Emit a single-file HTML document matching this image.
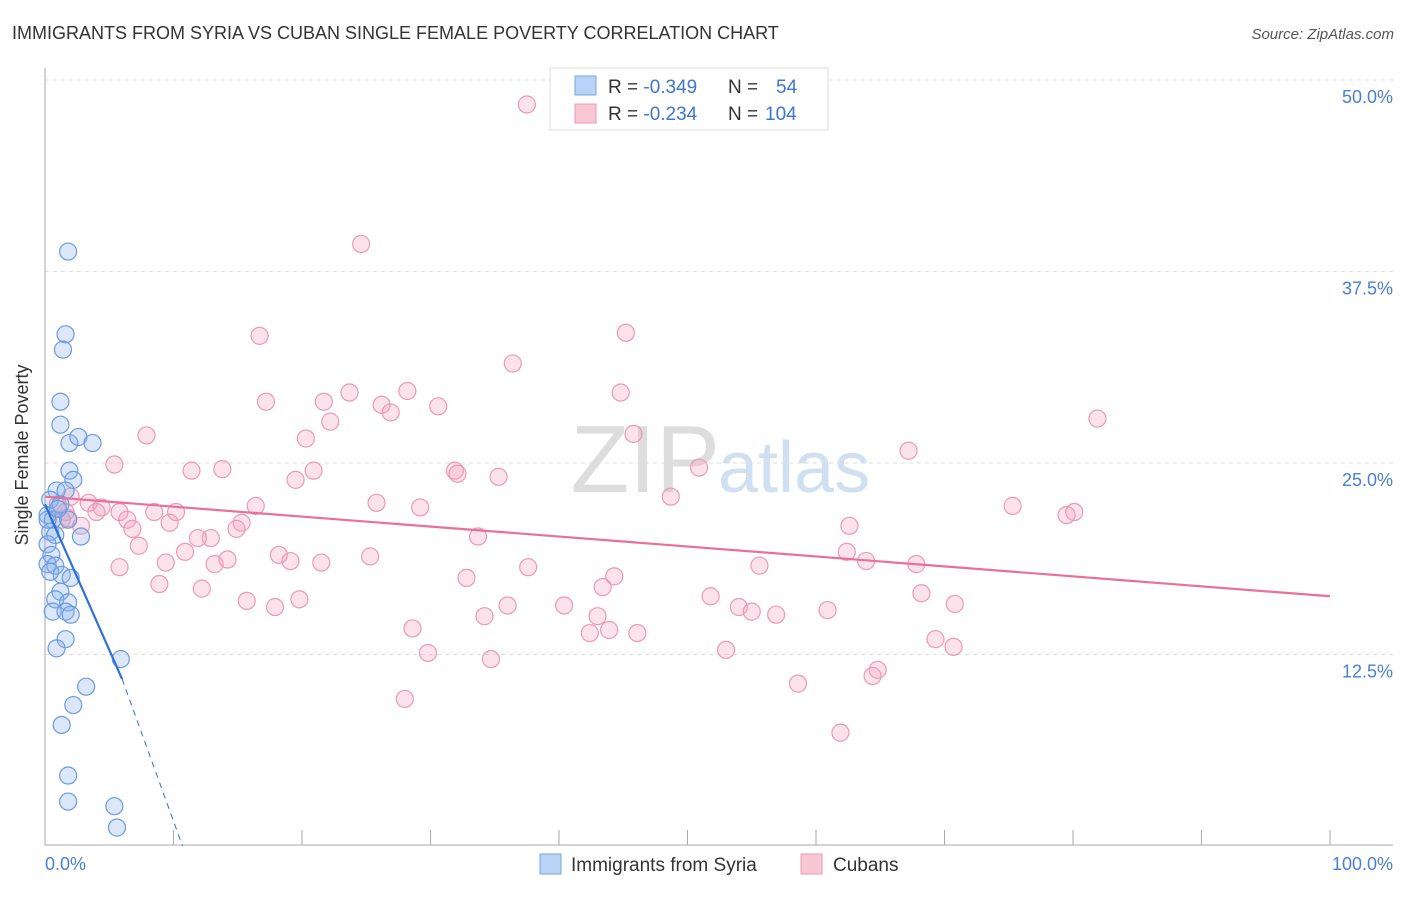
<!DOCTYPE html>
<html><head><meta charset="utf-8"><style>
body{margin:0;background:#fff;font-family:"Liberation Sans",sans-serif;}
svg text{font-family:"Liberation Sans",sans-serif;}
</style></head><body>
<svg id="c" width="1406" height="892">
<text x="12" y="39" font-size="18" fill="#333">IMMIGRANTS FROM SYRIA VS CUBAN SINGLE FEMALE POVERTY CORRELATION CHART</text>
<text x="1394" y="39" font-size="15" fill="#555" text-anchor="end" font-style="italic">Source: ZipAtlas.com</text>
<text x="720" y="492" font-size="96" fill="#ddd" text-anchor="end" font-family="Liberation Serif">ZIP</text>
<text x="718" y="492" font-size="72" fill="#cfe0f3">atlas</text>
<g id="grid"></g>
<line x1="45" y1="68" x2="45" y2="845" stroke="#aaa"/>
<line x1="45" y1="845" x2="1393" y2="845" stroke="#aaa"/>
<text x="28" y="455" font-size="18" fill="#333" text-anchor="middle" transform="rotate(-90 28 455)">Single Female Poverty</text>
<text x="45" y="870" font-size="18" fill="#4a7fd4">0.0%</text>
<text x="1393" y="870" font-size="18" fill="#4a7fd4" text-anchor="end">100.0%</text>
<g id="pts"></g>
<g id="lines"></g>
<g>
<rect x="550" y="68" width="278" height="62" fill="#fff" stroke="#ddd"/>
<rect x="575" y="76" width="21" height="19" fill="#b8d3f5" stroke="#7aa7e0"/>
<rect x="575" y="104" width="21" height="19" fill="#f9c6d5" stroke="#eb9ab3"/>
<text x="608" y="93" font-size="19" fill="#333">R = <tspan fill="#3e75d0">-0.349</tspan><tspan x="728">N =</tspan><tspan x="776" fill="#3e75d0">54</tspan></text>
<text x="608" y="120" font-size="19" fill="#333">R = <tspan fill="#3e75d0">-0.234</tspan><tspan x="728">N =</tspan><tspan x="765" fill="#3e75d0">104</tspan></text>
</g>
<g>
<rect x="540" y="854" width="21" height="20" fill="#b8d3f5" stroke="#7aa7e0"/>
<text x="571" y="871" font-size="19" fill="#333">Immigrants from Syria</text>
<rect x="801" y="854" width="21" height="20" fill="#f9c6d5" stroke="#eb9ab3"/>
<text x="833" y="871" font-size="19" fill="#333">Cubans</text>
</g>
</svg>
<script>
const yTicks=[12.5,25,37.5,50];
const yTickLabels=["12.5%","25.0%","37.5%","50.0%"];
const xTicks=[10,20,30,40,50,60,70,80,90,100];
const syriaX=[1.8,1.6,1.4,1.2,1.2,1.9,2.6,3.7,1.9,2.2,0.9,1.6,0.4,1.2,0.2,0.6,1.8,0.4,0.8,2.8,0.2,0.5,0.2,0.8,1.3,0.4,2.0,1.2,0.8,1.8,0.6,1.6,2.0,1.6,0.9,5.9,3.2,2.2,1.3,1.8,1.8,5.4,5.6,0.2,1.0];
const syriaY=[38.8,33.4,32.4,29.0,27.5,26.3,26.7,26.3,24.5,23.9,23.2,23.2,22.6,22.3,21.6,21.3,21.3,20.5,20.3,20.2,19.7,19.0,18.4,18.3,17.7,17.9,17.5,16.6,16.1,15.9,15.3,15.3,15.1,13.5,12.9,12.2,10.4,9.2,7.9,4.6,2.9,2.6,1.2,21.3,22.0];
const cubaX=[37.5,24.6,16.7,45.2,36.4,17.2,23.7,28.2,21.7,26.2,26.9,30.6,22.2,44.8,81.9,7.9,20.3,45.8,5.4,11.4,13.8,19.5,20.9,31.9,32.1,35.3,50.9,67.2,2.0,3.4,4.4,4.0,5.8,8.5,10.2,16.4,25.8,29.2,48.7,75.3,79.5,80.1,6.4,6.8,9.7,15.3,14.9,12.9,11.9,2.8,1.8,7.3,10.9,18.2,19.1,21.5,25.3,33.7,62.6,62.4,63.9,67.8,5.8,9.4,13.2,14.2,37.6,55.6,32.8,44.3,43.4,8.9,12.2,15.7,17.9,19.8,36.0,40.4,51.8,54.0,55.0,56.9,60.9,68.2,70.8,34.2,43.0,28.6,42.4,43.9,46.1,69.3,70.7,29.8,34.7,53.0,58.6,64.8,64.4,28.0,61.9,1.6,1.0,1.3];
const cubaY=[48.4,39.3,33.3,33.5,31.5,29.0,29.6,29.7,29.0,28.8,28.3,28.7,27.7,29.6,27.9,26.8,26.6,26.9,24.9,24.5,24.6,23.9,24.5,24.5,24.3,24.1,24.7,25.8,22.8,22.4,22.1,21.8,21.8,21.8,21.8,22.2,22.4,22.1,22.8,22.2,21.6,21.8,21.3,20.7,21.1,21.1,20.7,20.1,20.1,20.9,21.4,19.6,19.2,19.0,18.6,18.5,18.9,20.2,20.9,19.2,18.6,18.4,18.2,18.5,18.4,18.7,18.2,18.3,17.5,17.6,16.9,17.1,16.8,16.0,15.6,16.1,15.7,15.7,16.3,15.6,15.3,15.1,15.4,16.5,15.8,15.0,15.0,14.2,13.9,14.1,13.9,13.5,13.0,12.6,12.2,12.8,10.6,11.5,11.1,9.6,7.4,21.8,22.3,21.3];
const syriaFit=[[0,22.3],[6.0,10.9]];
const syriaExt=[[6.0,10.9],[10.7,0]];
const cubaFit=[[0,22.8],[100,16.3]];
const NS="http://www.w3.org/2000/svg";
const X=v=>45+v*12.85, Y=v=>846-v*15.32;
function mk(t,a,p){const e=document.createElementNS(NS,t);for(const k in a)e.setAttribute(k,a[k]);p.appendChild(e);return e;}
const grid=document.getElementById('grid');
yTicks.forEach((t,i)=>{
 const l=mk('line',{x1:45,x2:1393,y1:Y(t),y2:Y(t),stroke:'#ddd','stroke-dasharray':'4 4'},grid);
 
 
 const tx=mk('text',{x:1393,y:Y(t)+23,'font-size':18,fill:'#4a7fd4','text-anchor':'end'},grid);
 tx.textContent=yTickLabels[i];
 
 
});
xTicks.forEach(t=>{
 const l=mk('line',{x1:X(t),x2:X(t),y1:830,y2:845,stroke:'#aaa'},grid);
 
 
});
const pts=document.getElementById('pts');
cubaX.forEach((v,i)=>{
 const c=mk('circle',{cx:X(v),cy:Y(cubaY[i]),r:8.5,fill:'rgba(245,160,190,0.3)',stroke:'#eb9ab3','stroke-width':1.2},pts);
 
 
});
syriaX.forEach((v,i)=>{
 const c=mk('circle',{cx:X(v),cy:Y(syriaY[i]),r:8.5,fill:'rgba(140,180,235,0.3)',stroke:'#6a9be0','stroke-width':1.2},pts);
 
 
});
const lines=document.getElementById('lines');
const l1=mk('line',{x1:X(cubaFit[0][0]),y1:Y(cubaFit[0][1]),x2:X(cubaFit[1][0]),y2:Y(cubaFit[1][1]),stroke:'#e8709a','stroke-width':2.2},lines);


const l2=mk('line',{x1:X(syriaFit[0][0]),y1:Y(syriaFit[0][1]),x2:X(syriaFit[1][0]),y2:Y(syriaFit[1][1]),stroke:'#2f6fd6','stroke-width':2.2},lines);


const l3=mk('line',{x1:X(syriaExt[0][0]),y1:Y(syriaExt[0][1]),x2:X(syriaExt[1][0]),y2:Y(syriaExt[1][1]),stroke:'#2f6fd6','stroke-width':1,'stroke-dasharray':'6 5'},lines);


</script>
</body></html>
